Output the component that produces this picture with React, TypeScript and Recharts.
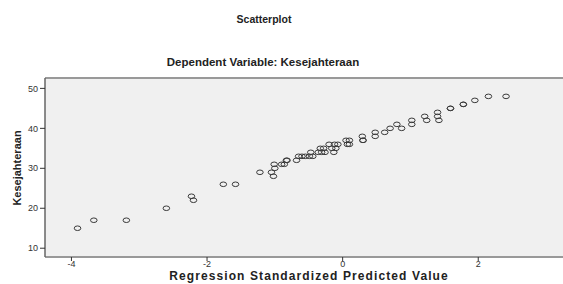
import React from "react";
import { ScatterChart, Scatter, XAxis, YAxis, CartesianGrid, ReferenceLine } from "recharts";

const predicted = [
  -3.91, -3.67, -3.19, -2.6, -2.23, -2.2, -1.76, -1.58, -1.22, -1.05, -1.02, -1.0, -1.01, -0.9, -0.86,
  -0.83, -0.82, -0.68, -0.65, -0.6, -0.55, -0.49, -0.44, -0.47, -0.36, -0.33, -0.31, -0.28, -0.26,
  -0.2, -0.16, -0.13, -0.12, -0.07, -0.1, 0.05, 0.1, 0.07, 0.1, 0.29, 0.3, 0.3, 0.48, 0.48, 0.62,
  0.7, 0.8, 0.87, 1.02, 1.02, 1.21, 1.24, 1.4, 1.4, 1.42, 1.59, 1.59, 1.78, 1.78, 1.95, 2.15, 2.41,
];
const kesejahteraan = [
  15, 17, 17, 20, 23, 22, 26, 26, 29, 29, 28, 30, 31, 31, 31,
  32, 32, 32, 33, 33, 33, 33, 33, 34, 34, 35, 34, 35, 34,
  36, 35, 34, 36, 36, 35, 37, 37, 36, 36, 38, 37, 37, 39, 38, 39,
  40, 41, 40, 42, 41, 43, 42, 44, 43, 42, 45, 45, 46, 46, 47, 48, 48,
];
const xTicks = [-4, -2, 0, 2];
const yTicks = [10, 20, 30, 40, 50];

const data = predicted.map((x, i) => ({ x, y: kesejahteraan[i] }));

const Ring = (props: any) => {
  const { cx, cy } = props;
  if (cx == null || cy == null) return null;
  return <ellipse cx={cx} cy={cy} rx={3.3} ry={2.3} fill="none" stroke="#3a3a3a" strokeWidth={1} />;
};

const font = "'Liberation Sans', Arial, sans-serif";

export default function App() {
  return (
    <div style={{ position: "absolute", left: 0, top: 0, width: 563, height: 284, background: "#fff", fontFamily: font }}>
      <div style={{ position: "absolute", left: 0, width: 528, top: 13, textAlign: "center", fontSize: 10.5, fontWeight: "bold", color: "#222" }}>
        Scatterplot
      </div>
      <div style={{ position: "absolute", left: 0, width: 526, top: 56, textAlign: "center", fontSize: 11.5, fontWeight: "bold", color: "#222" }}>
        Dependent Variable: Kesejahteraan
      </div>
      <ScatterChart width={563} height={284} margin={{ top: 78, right: 0, bottom: 0, left: 0 }}>
        <CartesianGrid fill="#f0f0f0" horizontal={false} vertical={false} />
        <XAxis
          type="number"
          dataKey="x"
          domain={[-4.39, 3.25]}
          ticks={xTicks}
          allowDataOverflow
          height={27}
          stroke="#888"
          tickSize={4}
          tick={{ fontSize: 9, fill: "#333", fontFamily: font, dy: -2 }}
          tickLine={{ stroke: "#333" }}
          axisLine={{ stroke: "#999", strokeWidth: 2 }}
        />
        <YAxis
          type="number"
          dataKey="y"
          domain={[7.8, 52.6]}
          ticks={yTicks}
          allowDataOverflow
          width={45}
          tickSize={5}
          tick={{ fontSize: 9, fill: "#333", fontFamily: font }}
          tickLine={{ stroke: "#333" }}
          axisLine={{ stroke: "#666", strokeWidth: 1.5 }}
        />
        <ReferenceLine y={52.6} stroke="#999" strokeWidth={2} />
        <Scatter data={data} shape={<Ring />} isAnimationActive={false} />
      </ScatterChart>
      <div style={{ position: "absolute", left: 0, width: 618, top: 270, lineHeight: "13px", textAlign: "center", fontSize: 12, fontWeight: "bold", color: "#222", letterSpacing: 1.1 }}>
        Regression Standardized Predicted Value
      </div>
      <div
        style={{
          position: "absolute",
          left: 17,
          top: 168,
          transform: "translate(-50%, -50%) rotate(-90deg)",
          whiteSpace: "nowrap",
          fontSize: 11,
          fontWeight: "bold",
          fontFamily: "'Liberation Sans Narrow', 'Liberation Sans', sans-serif",
          color: "#222",
        }}
      >
        Kesejahteraan
      </div>
    </div>
  );
}
